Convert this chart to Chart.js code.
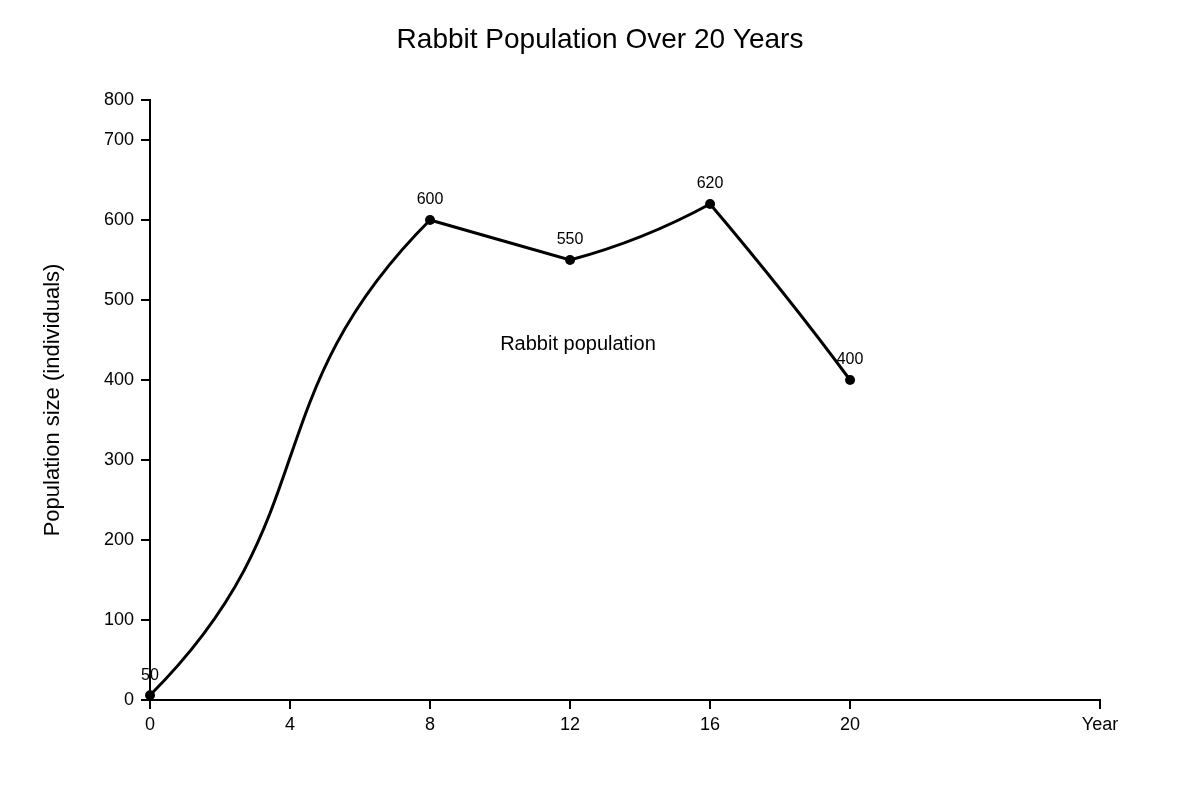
<!DOCTYPE html>
<html>
<head>
<meta charset="utf-8">
<script src="https://cdn.jsdelivr.net/npm/chart.js@4.4.1/dist/chart.umd.min.js"></script>
<style>
html, body { margin: 0; padding: 0; background: #ffffff; }
#wrap { width: 1200px; height: 800px; }
</style>
</head>
<body>
<div id="wrap"><canvas id="c" width="1200" height="800"></canvas></div>
<script>
// ---- data ----
const years = [0, 8, 12, 16, 20];
const population = [6, 600, 550, 620, 400];
const pointLabels = ['50', '600', '550', '620', '400'];
const xTickValues = [0, 4, 8, 12, 16, 20];
const xAxisMax = 27.14;
const xEndLabel = 'Year';
const yTickValues = [0, 100, 200, 300, 400, 500, 600, 700, 750];
const yTickLabels = ['0', '100', '200', '300', '400', '500', '600', '700', '800'];
const yAxisMax = 750;
const seriesName = 'Rabbit population';
const chartTitle = 'Rabbit Population Over 20 Years';
const yAxisTitle = 'Population size (individuals)';

const FONT = '"Liberation Sans", Arial, Helvetica, sans-serif';

// per-segment bezier handle shape (fractions of segment dx/dy)
const segmentShape = [
  [0.636, 0.375, 0.636, 0.375],
  [1 / 3, 1 / 3, 1 / 3, 1 / 3],
  [0.33, 0.22, 0.33, 0.45],
  [0.33, 0.31, 0.33, 0.355]
];

const curveShape = {
  id: 'curveShape',
  beforeDatasetDraw(chart, args) {
    const meta = args.meta;
    const line = meta.dataset;
    const pts = meta.data;
    if (!line || !pts.length) return;
    line.updateControlPoints(chart.chartArea, 'x');
    for (let i = 0; i < pts.length - 1; i++) {
      const a = pts[i], b = pts[i + 1];
      const dx = b.x - a.x, dy = b.y - a.y;
      const s = segmentShape[i] || [1 / 3, 1 / 3, 1 / 3, 1 / 3];
      a.cp2x = a.x + s[0] * dx; a.cp2y = a.y + s[1] * dy;
      b.cp1x = b.x - s[2] * dx; b.cp1y = b.y - s[3] * dy;
    }
    line._pointsUpdated = true;
    line._path = undefined;
  }
};

const textLabels = {
  id: 'textLabels',
  afterDatasetsDraw(chart) {
    const ctx = chart.ctx;
    const meta = chart.getDatasetMeta(0);
    ctx.save();
    ctx.fillStyle = '#000';
    ctx.textAlign = 'center';
    ctx.textBaseline = 'middle';
    ctx.font = '16px ' + FONT;
    meta.data.forEach((pt, i) => {
      ctx.fillText(pointLabels[i], pt.x, pt.y - 20);
    });
    const ca = chart.chartArea;
    ctx.font = '20px ' + FONT;
    ctx.fillText(seriesName, ca.left + 0.4505 * (ca.right - ca.left), ca.top + 0.4067 * (ca.bottom - ca.top));
    ctx.font = '28px ' + FONT;
    ctx.fillText(chartTitle, chart.width / 2, 40);
    ctx.restore();
  }
};

const points = years.map((x, i) => ({ x: x, y: population[i] }));

new Chart(document.getElementById('c'), {
  type: 'line',
  data: {
    datasets: [{
      label: seriesName,
      data: points,
      borderColor: '#000',
      borderWidth: 3,
      backgroundColor: '#000',
      pointRadius: 5,
      pointBackgroundColor: '#000',
      pointBorderWidth: 0,
      tension: 0.4,
      fill: false,
      clip: false
    }]
  },
  options: {
    responsive: false,
    animation: false,
    devicePixelRatio: 1,
    layout: { padding: { left: 0, right: 100, top: 100, bottom: 0 } },
    plugins: {
      legend: { display: false },
      tooltip: { enabled: false },
      title: { display: false }
    },
    scales: {
      x: {
        type: 'linear',
        min: 0,
        max: xAxisMax,
        afterBuildTicks: (scale) => {
          scale.ticks = xTickValues.concat([xAxisMax]).map(v => ({ value: v }));
        },
        afterFit: (scale) => { scale.height = 100; },
        ticks: {
          color: '#000',
          font: { family: FONT, size: 18 },
          padding: 5,
          maxRotation: 0,
          autoSkip: false,
          callback: (value) => value === xAxisMax ? xEndLabel : String(value)
        },
        grid: { display: true, drawOnChartArea: false, drawTicks: true, tickLength: 9, color: '#000', lineWidth: 2 },
        border: { display: true, color: '#000', width: 2 }
      },
      y: {
        type: 'linear',
        min: 0,
        max: yAxisMax,
        afterBuildTicks: (scale) => {
          scale.ticks = yTickValues.map(v => ({ value: v }));
        },
        afterFit: (scale) => { scale.width = 150; },
        ticks: {
          color: '#000',
          font: { family: FONT, size: 18 },
          padding: 7,
          autoSkip: false,
          callback: (value) => {
            const i = yTickValues.indexOf(value);
            return i >= 0 ? yTickLabels[i] : '';
          }
        },
        title: {
          display: true,
          text: yAxisTitle,
          color: '#000',
          font: { family: FONT, size: 22 },
          padding: { top: 39.8, bottom: 0 }
        },
        grid: { display: true, drawOnChartArea: false, drawTicks: true, tickLength: 9, color: '#000', lineWidth: 2 },
        border: { display: true, color: '#000', width: 2 }
      }
    }
  },
  plugins: [curveShape, textLabels]
});
</script>
</body>
</html>
